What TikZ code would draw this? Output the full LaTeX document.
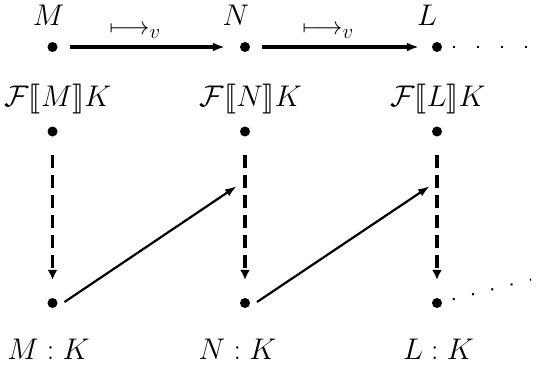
\documentclass[tikz,border=0pt]{standalone}
\IfFileExists{stmaryrd.sty}{\usepackage{stmaryrd}}{\providecommand\llbracket{[\mkern-3mu[}\providecommand\rrbracket{]\mkern-3mu]}}
\usetikzlibrary{arrows.meta}
\begin{document}
\begin{tikzpicture}[x=1pt,y=-1pt,
  dotnode/.style={circle,fill=black,inner sep=0pt,minimum size=10pt},
  lbl/.style={inner sep=0pt,font=\fontsize{24.88}{30}\selectfont,scale=1.2,transform shape},
  arrlbl/.style={inner sep=0pt,font=\fontsize{24.88}{30}\selectfont},
  toparrow/.style={line width=4pt,-{Latex[length=12pt,width=9pt]}},
  downarrow/.style={line width=3.8pt,dash pattern=on 13pt off 7pt,-{Latex[length=10pt,width=10pt]}},
  diag/.style={line width=2.2pt,-{Latex[length=12pt,width=8pt]}},
  cont/.style={line width=2pt,dash pattern=on 2pt off 22pt}]
\useasboundingbox (0,0) rectangle (548,369);
% dots
\node[dotnode] (mt) at (52.5,47) {};
\node[dotnode] (nt) at (245,47) {};
\node[dotnode] (lt) at (437,47) {};
\node[dotnode] (mm) at (52.5,131.5) {};
\node[dotnode] (nm) at (245,131.5) {};
\node[dotnode] (lm) at (437,131.5) {};
\node[dotnode] (mb) at (52.5,303) {};
\node[dotnode] (nb) at (245,303) {};
\node[dotnode] (lb) at (437,303) {};
% labels
\node[lbl] (lM) at (48.5,15) {$M$};
\node[lbl] (lN) at (236,15) {$N$};
\node[lbl] (lL) at (427,15) {$L$};
\node[lbl] (fM) at (58,99) {$\mathcal{F}\llbracket M\rrbracket K$};
\node[lbl] (fN) at (251,99) {$\mathcal{F}\llbracket N\rrbracket K$};
\node[lbl] (fL) at (438,99) {$\mathcal{F}\llbracket L\rrbracket K$};
\node[lbl] (kM) at (48.5,349) {$M:K$};
\node[lbl] (kN) at (237.5,349) {$N:K$};
\node[lbl] (kL) at (438.5,349) {$L:K$};
\node[arrlbl] (v1) at (135,32) {$\longmapsto_v$};
\node[arrlbl] (v2) at (328,32) {$\longmapsto_v$};
% top arrows
\draw[toparrow,shorten <=12pt,shorten >=15pt] (mt) -- (nt);
\draw[toparrow,shorten <=12pt,shorten >=13pt] (nt) -- (lt);
% dashed down arrows
\draw[downarrow,shorten <=18pt,shorten >=18pt] (mm) -- (mb);
\draw[downarrow,shorten <=18pt,shorten >=18pt] (nm) -- (nb);
\draw[downarrow,shorten <=18pt,shorten >=18pt] (lm) -- (lb);
% diagonals
\coordinate (t1) at (237,186);
\coordinate (t2) at (430,186);
\draw[diag] ([xshift=12pt,yshift=1pt]mb.center) -- (t1);
\draw[diag] ([xshift=12pt,yshift=1pt]nb.center) -- (t2);
% continuation dots
\coordinate (ct) at (531,47);
\coordinate (cb) at (531,279.5);
\draw[cont] ([xshift=15.7pt]lt.center) -- (ct);
\draw[cont,dash pattern=on 2pt off 17.9pt] ([xshift=15.7pt,yshift=3.7pt]lb.center) -- (cb);
\end{tikzpicture}
\end{document}
